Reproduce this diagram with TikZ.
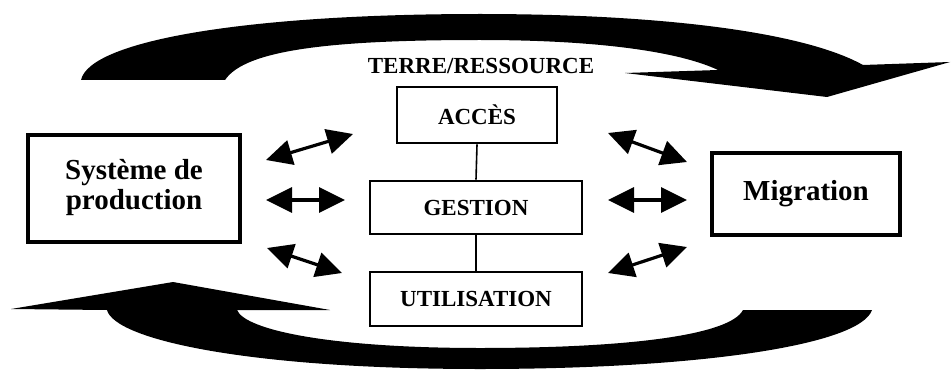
\documentclass[tikz,border=0pt]{standalone}
\usepackage{fontspec}
\setmainfont{Liberation Serif}
\usetikzlibrary{arrows.meta}

\begin{document}
\begin{tikzpicture}[x=0.5pt, y=-0.5pt]
	\tikzstyle{centre}=[rectangle, draw=black, line width=1.4pt, inner sep=0pt, font=\bfseries\fontsize{11.5}{13}\selectfont]
	\tikzstyle{side}=[rectangle, draw=black, line width=1.9pt, inner sep=0pt, align=center, font=\bfseries\fontsize{14.5}{16}\selectfont]
	\tikzstyle{echange}=[{Triangle[length=13pt, width=12.5pt]}-{Triangle[length=13pt, width=12.5pt]}, line width=1.6pt]
	\useasboundingbox (0, 0) rectangle (951, 369);

	% grandes fleches
	\fill (81, 80) -- (225, 80) .. controls (245, 50) and (330, 40) .. (480, 40)
		.. controls (600, 40) and (680, 52) .. (718, 70) -- (625, 73) -- (827, 97) -- (950, 62) -- (863, 65)
		.. controls (800, 30) and (650, 14) .. (480, 14) .. controls (250, 14) and (90, 40) .. (81, 80) -- cycle;
	\fill (11, 309) -- (173, 282) -- (330, 310) -- (237, 310) .. controls (245, 330) and (330, 348) .. (480, 348)
		.. controls (630, 348) and (730, 335) .. (743, 310) -- (872, 310)
		.. controls (860, 345) and (700, 369) .. (480, 369) .. controls (250, 369) and (115, 340) .. (107, 310) -- cycle;

	\draw node[font=\bfseries\fontsize{11.5}{13}\selectfont] at (481, 66) (terre) {TERRE/RESSOURCE};
	\draw node[centre, minimum width=80pt, minimum height=28pt] at (477, 115) (acces) {ACCÈS};
	\draw node[centre, minimum width=106pt, minimum height=26.5pt] at (476, 207.5) (gestion) {GESTION};
	\draw node[centre, minimum width=106pt, minimum height=27pt] at (476, 299) (utilisation) {UTILISATION};
	\draw node[side, minimum width=106pt, minimum height=53.5pt] at (134, 188.5) (production) {\raisebox{2pt}{\begin{tabular}{c}Système de\\[-1pt]production\end{tabular}}};
	\draw node[side, minimum width=94pt, minimum height=41pt] at (806, 194) (migration) {\raisebox{2.5pt}{Migration}};

	\draw [line width=0.8pt] (acces.south) -- (gestion.north);
	\draw [line width=0.8pt] (gestion.south) -- (utilisation.north);

	% echanges
	\foreach \n/\xa/\ya/\xb/\yb in {g1/266/160/353/134, g2/266/200/345/200, g3/267/248/342/273,
		d1/608/133/687/162, d2/608/200/687/200, d3/608/273/687/247} {
		\coordinate (\n-a) at (\xa, \ya);
		\coordinate (\n-b) at (\xb, \yb);
		\draw [echange] (\n-a) -- (\n-b);
	}
\end{tikzpicture}
\end{document}
